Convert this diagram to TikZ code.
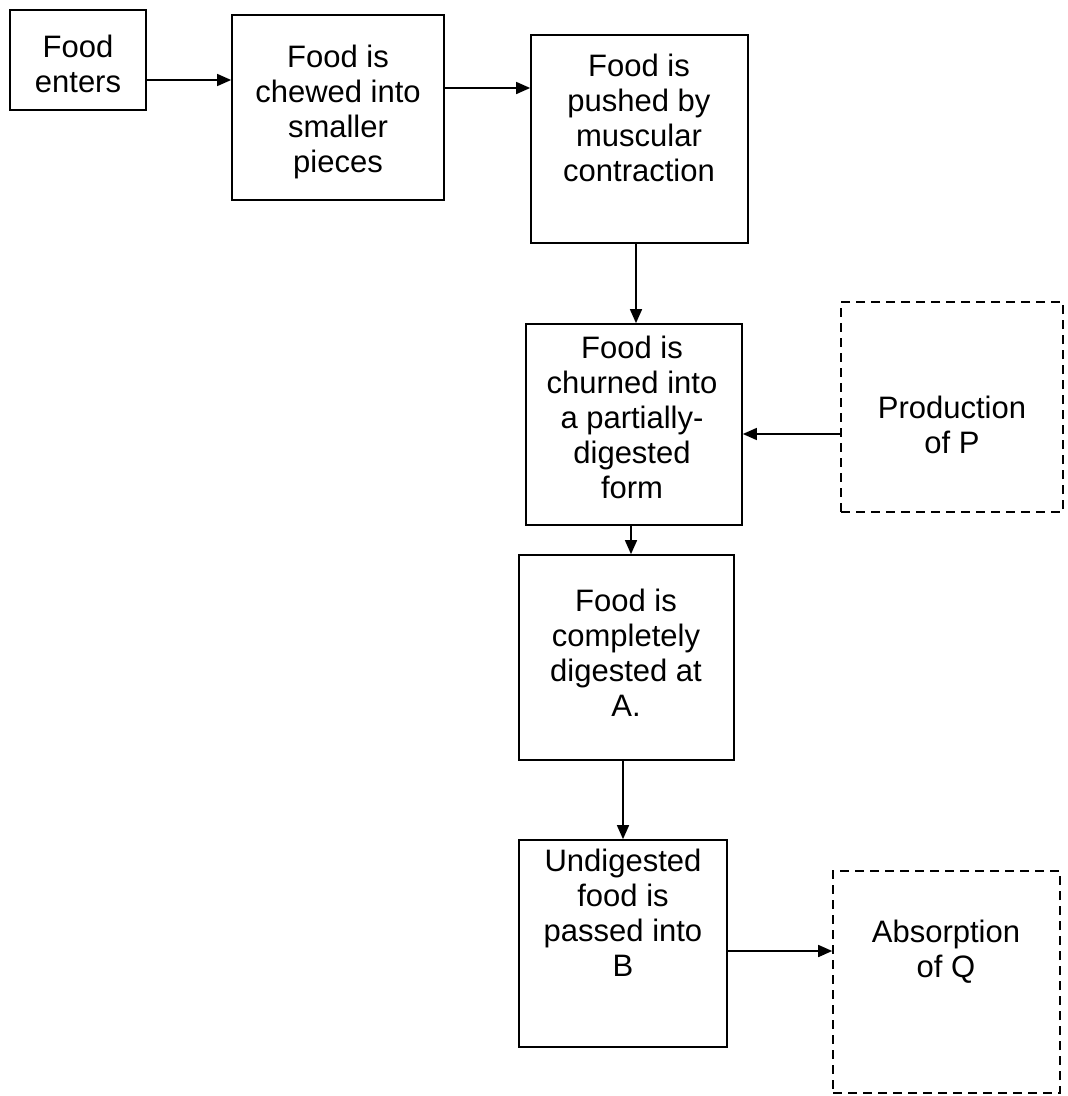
\documentclass[tikz,border=0pt]{standalone}
\usepackage{fontspec}
\setmainfont{Liberation Sans}
\usetikzlibrary{arrows.meta}
\tikzset{
  stage/.style={draw, line width=1.7pt, rectangle, inner sep=0pt},
  extra/.style={draw, line width=1.6pt, rectangle, inner sep=0pt, dash pattern=on 9pt off 6pt},
  caption/.style={align=center, inner sep=0pt, font=\fontsize{31}{35}\selectfont},
  flow/.style={line width=1.5pt, -{Triangle[length=14pt,width=12pt]}}
}
\begin{document}
\begin{tikzpicture}[x=1pt,y=-1pt]
\useasboundingbox (0,0) rectangle (1068,1096);
\fill[white] (0,0) rectangle (1068,1096);

% process boxes
\node[stage, minimum width=136pt, minimum height=100pt] (b1) at (78,60) {};
\node[stage, minimum width=212pt, minimum height=185pt] (b2) at (338,107.5) {};
\node[stage, minimum width=217pt, minimum height=208pt] (b3) at (639.5,139) {};
\node[stage, minimum width=216pt, minimum height=201pt] (b4) at (634,424.5) {};
\node[extra, minimum width=222pt, minimum height=210pt] (bP) at (952,407) {};
\node[stage, minimum width=215pt, minimum height=205pt] (b5) at (626.5,657.5) {};
\node[stage, minimum width=208pt, minimum height=207pt] (b6) at (623,943.5) {};
\node[extra, minimum width=227pt, minimum height=222pt] (bQ) at (946.5,982) {};

% box texts
\node[caption] (t1) at (78,64) {Food\\enters};
\node[caption] (t2) at (338,112) {Food is\\chewed into\\smaller\\pieces};
\node[caption] (t3) at (639,118) {Food is\\pushed by\\muscular\\contraction};
\node[caption] (t4) at (632,417) {Food is\\churned into\\a partially-\\digested\\form};
\node[caption] (tP) at (952,425) {Production\\of P};
\node[caption] (t5) at (626,653) {Food is\\completely\\digested at\\A.};
\node[caption] (t6) at (623,913) {Undigested\\food is\\passed into\\B};
\node[caption] (tQ) at (946,952) {Absorption\\of Q};

% connector levels
\coordinate (y12) at (0,80);
\coordinate (y23) at (0,88);
\coordinate (x34) at (636,0);
\coordinate (yP4) at (0,434);
\coordinate (x45) at (631,0);
\coordinate (x56) at (623,0);
\coordinate (y6Q) at (0,951);

% connectors
\draw[flow] (b1.east |- y12) -- (b2.west |- y12);
\draw[flow] (b2.east |- y23) -- (b3.west |- y23);
\draw[flow] (x34 |- b3.south) -- (x34 |- b4.north);
\draw[flow] (bP.west |- yP4) -- (b4.east |- yP4);
\draw[flow] (x45 |- b4.south) -- (x45 |- b5.north);
\draw[flow] (x56 |- b5.south) -- (x56 |- b6.north);
\draw[flow] (b6.east |- y6Q) -- (bQ.west |- y6Q);
\end{tikzpicture}
\end{document}
